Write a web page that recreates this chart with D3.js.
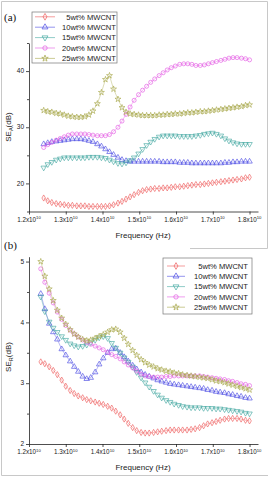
<!DOCTYPE html>
<html><head><meta charset="utf-8">
<script src="https://cdn.jsdelivr.net/npm/d3@7"></script>
<style>html,body{margin:0;padding:0;background:#fff;}svg{display:block;}</style>
</head><body>
<svg id="c" width="269" height="481"></svg>
<script>
// Frequencies (GHz)
const freqA = [12.40,12.51,12.62,12.74,12.85,12.96,13.07,13.18,13.30,13.41,13.52,13.63,13.74,13.86,13.97,14.08,14.19,14.30,14.42,14.53,14.64,14.75,14.86,14.98,15.09,15.20,15.31,15.42,15.54,15.65,15.76,15.87,15.98,16.10,16.21,16.32,16.43,16.54,16.66,16.77,16.88,16.99,17.10,17.22,17.33,17.44,17.55,17.66,17.78,17.89,18.00];
const freqB = [12.32,12.43,12.55,12.66,12.77,12.89,13.00,13.12,13.23,13.34,13.46,13.57,13.68,13.80,13.91,14.02,14.14,14.25,14.36,14.48,14.59,14.70,14.82,14.93,15.05,15.16,15.27,15.39,15.50,15.61,15.73,15.84,15.95,16.07,16.18,16.30,16.41,16.52,16.64,16.75,16.86,16.98,17.09,17.20,17.32,17.43,17.54,17.66,17.77,17.89,18.00];

const seriesNames = ["5wt% MWCNT","10wt% MWCNT","15wt% MWCNT","20wt% MWCNT","25wt% MWCNT"];

// Panel (a): SE_A (dB)
const seA5  = [17.4,16.9,16.6,16.4,16.3,16.2,16.1,16.1,16.0,16.0,16.0,15.9,15.9,15.9,15.9,15.9,16.0,16.2,16.5,16.8,17.2,17.6,18.0,18.4,18.7,18.9,19.0,19.1,19.1,19.2,19.2,19.3,19.4,19.4,19.5,19.6,19.7,19.8,19.8,19.9,20.0,20.1,20.2,20.3,20.4,20.5,20.6,20.7,20.8,21.0,21.1];
const seA10 = [27.0,27.2,27.4,27.5,27.6,27.7,27.8,27.9,27.9,27.9,27.8,27.6,27.4,27.0,26.6,26.1,25.6,25.1,24.6,24.2,24.0,23.9,23.9,23.9,23.9,23.9,23.9,23.9,23.9,23.8,23.8,23.8,23.8,23.7,23.7,23.7,23.6,23.6,23.6,23.6,23.6,23.6,23.6,23.6,23.7,23.7,23.8,23.8,23.9,23.9,23.9];
const seA15 = [22.8,23.4,23.8,24.2,24.4,24.6,24.6,24.6,24.6,24.6,24.6,24.7,24.7,24.7,24.6,24.5,24.2,23.9,23.6,23.5,23.7,24.1,24.6,25.3,26.1,26.8,27.4,27.9,28.3,28.5,28.5,28.5,28.5,28.4,28.4,28.4,28.4,28.5,28.6,28.8,28.9,29.0,28.8,28.5,28.0,27.6,27.3,27.1,27.0,27.0,27.0];
const seA20 = [26.4,26.9,27.3,27.7,28.0,28.3,28.6,28.8,28.8,28.8,28.8,28.7,28.6,28.5,28.5,28.5,28.7,29.2,30.0,31.1,32.3,33.6,34.8,35.8,36.6,37.3,38.0,38.6,39.2,39.7,40.2,40.6,40.9,41.2,41.3,41.3,41.2,41.0,41.0,41.1,41.3,41.5,41.7,41.9,42.1,42.3,42.4,42.4,42.3,42.2,42.0];
const seA25 = [33.0,32.8,32.7,32.5,32.4,32.2,32.0,31.9,31.8,31.8,31.9,32.2,32.9,34.2,36.2,38.5,39.2,36.8,35.0,33.5,32.7,32.4,32.3,32.2,32.1,32.1,32.1,32.1,32.2,32.2,32.3,32.3,32.4,32.4,32.5,32.6,32.6,32.7,32.8,32.8,32.9,33.0,33.1,33.2,33.3,33.4,33.5,33.6,33.7,33.9,34.0];

// Panel (b): SE_R (dB)
const seR5  = [3.35,3.32,3.27,3.21,3.14,3.05,2.95,2.88,2.83,2.79,2.76,2.73,2.71,2.69,2.67,2.65,2.62,2.59,2.54,2.48,2.41,2.34,2.27,2.22,2.19,2.18,2.18,2.19,2.20,2.21,2.22,2.23,2.23,2.23,2.23,2.23,2.24,2.25,2.27,2.30,2.33,2.35,2.37,2.39,2.41,2.42,2.42,2.42,2.41,2.39,2.38];
const seR10 = [4.47,4.22,3.98,3.84,3.72,3.56,3.46,3.36,3.27,3.19,3.11,3.07,3.09,3.18,3.31,3.41,3.50,3.56,3.57,3.50,3.43,3.36,3.29,3.23,3.18,3.14,3.11,3.08,3.05,3.03,3.01,2.99,2.98,2.97,2.96,2.95,2.94,2.93,2.92,2.91,2.89,2.88,2.86,2.85,2.84,2.82,2.81,2.79,2.78,2.76,2.75];
const seR15 = [4.42,4.18,4.01,3.91,3.84,3.77,3.71,3.65,3.62,3.60,3.61,3.63,3.67,3.71,3.75,3.77,3.74,3.66,3.58,3.50,3.42,3.35,3.27,3.18,3.09,3.01,2.94,2.87,2.81,2.76,2.72,2.69,2.66,2.64,2.62,2.61,2.60,2.60,2.60,2.59,2.59,2.59,2.58,2.58,2.57,2.56,2.55,2.54,2.53,2.51,2.50];
const seR20 = [4.88,4.66,4.48,4.32,4.17,4.05,3.95,3.87,3.81,3.76,3.71,3.67,3.64,3.61,3.58,3.55,3.51,3.47,3.44,3.40,3.35,3.30,3.25,3.20,3.15,3.12,3.11,3.10,3.10,3.10,3.11,3.11,3.12,3.12,3.12,3.12,3.12,3.12,3.12,3.11,3.10,3.09,3.08,3.07,3.06,3.04,3.03,3.01,2.99,2.98,2.96];
const seR25 = [5.00,4.76,4.55,4.36,4.20,4.07,3.97,3.88,3.81,3.76,3.72,3.70,3.71,3.74,3.77,3.80,3.84,3.88,3.89,3.84,3.74,3.64,3.54,3.46,3.39,3.34,3.30,3.27,3.24,3.22,3.20,3.19,3.17,3.16,3.14,3.13,3.12,3.11,3.10,3.09,3.08,3.06,3.04,3.03,3.01,2.99,2.97,2.95,2.93,2.91,2.89];

const xTicks = [12,13,14,15,16,17,18];
const yTicksA = [20,30,40];
const yMinorA = [15,25,35,45];
const yTicksB = [2,3,4,5];
const yMinorB = [2.5,3.5,4.5];

const colors = ["#ee5b5b","#4b4be3","#45a9a2","#e35ae3","#a8a84c"];
const symbols = [d3.symbolDiamond, d3.symbolTriangle, d3.symbolTriangle, d3.symbolCircle, d3.symbolStar];
const symSizes = [11, 13, 13, 13, 11];
const symRot = [0, 0, 180, 0, 0];

const svg = d3.select("#c");
const font = "Arial, 'Liberation Sans', sans-serif";

// faint frames
const frame = svg.append("g").attr("stroke","#c8c8c8").attr("stroke-width",1).attr("fill","none");
frame.append("path").attr("d","M1.5,475.5 V1.5 H267.5 V248.5 H190");
frame.append("path").attr("d","M1.5,475.5 H268");

function panel(cfg){
  const x = d3.scaleLinear().domain([12, 18.23]).range([29, 258]);
  const y = d3.scaleLinear().domain(cfg.yDomain).range(cfg.yRange);
  const g = svg.append("g");

  g.append("g").attr("transform",`translate(0,${cfg.yRange[0]})`)
    .call(d3.axisBottom(x).tickValues(xTicks).tickSize(3).tickSizeOuter(0).tickFormat(""));
  g.append("g").attr("transform","translate(29,0)")
    .call(d3.axisLeft(y).tickValues(cfg.yTicks).tickSize(3).tickSizeOuter(0).tickFormat(""));
  g.append("g").attr("transform","translate(29,0)")
    .call(d3.axisLeft(y).tickValues(cfg.yMinor).tickSize(2).tickSizeOuter(0).tickFormat(""))
    .select(".domain").remove();
  g.selectAll(".domain, .tick line").attr("stroke","#222").attr("stroke-width",0.8);

  xTicks.forEach(t=>{
    const tx = g.append("text").attr("x", x(t)).attr("y", cfg.yRange[0]+10)
      .attr("text-anchor","middle").attr("font-family",font).attr("font-size","6.3px").attr("fill","#222");
    tx.append("tspan").text((t/10).toFixed(1)+"x10");
    tx.append("tspan").attr("dy","-2.5").attr("font-size","4.2px").text("10");
  });
  cfg.yTicks.forEach(t=>{
    g.append("text").attr("x",24).attr("y",y(t)+2.2).attr("text-anchor","end")
      .attr("font-family",font).attr("font-size","6.5px").attr("fill","#222").text(t);
  });

  g.append("text").attr("x",143).attr("y",cfg.xTitleY).attr("text-anchor","middle")
    .attr("font-family",font).attr("font-size","8px").attr("fill","#222").text("Frequency (Hz)");
  const yt = g.append("text").attr("transform",`translate(10.5,${cfg.yTitleY}) rotate(-90)`)
    .attr("text-anchor","middle").attr("font-family",font).attr("font-size","8px").attr("fill","#222");
  yt.append("tspan").text("SE");
  yt.append("tspan").attr("font-size","5.5px").attr("dy","2").text(cfg.sub);
  yt.append("tspan").attr("dy","-2").text("(dB)");

  g.append("text").attr("x",cfg.labelX).attr("y",cfg.labelY).attr("font-family","'Liberation Serif', 'Times New Roman', serif")
    .attr("font-size","11px").attr("fill","#111").text(cfg.label);

  const line = d3.line().x((d,i)=>x(cfg.freq[i])).y(d=>y(d));
  cfg.data.forEach((vals,k)=>{
    g.append("path").datum(vals).attr("d",line).attr("fill","none")
      .attr("stroke",colors[k]).attr("stroke-width",0.5).attr("opacity",0.8);
    const sym = d3.symbol().type(symbols[k]).size(symSizes[k]);
    g.append("g").selectAll("path").data(vals).join("path")
      .attr("d",sym).attr("transform",(d,i)=>`translate(${x(cfg.freq[i])},${y(d)}) rotate(${symRot[k]})`)
      .attr("fill","none").attr("stroke",colors[k]).attr("stroke-width",0.65);
  });

  const L = cfg.legend;
  const lg = g.append("g");
  lg.append("rect").attr("x",L.x).attr("y",L.y).attr("width",L.w).attr("height",L.h)
    .attr("fill","#fff").attr("stroke","#777").attr("stroke-width",0.7);
  seriesNames.forEach((n,k)=>{
    const yy = L.y + L.first + k*L.step;
    lg.append("line").attr("x1",L.x+L.l1).attr("x2",L.x+L.l2).attr("y1",yy).attr("y2",yy)
      .attr("stroke",colors[k]).attr("stroke-width",0.6);
    lg.append("path").attr("d",d3.symbol().type(symbols[k]).size(symSizes[k]+2)())
      .attr("transform",`translate(${L.x+(L.l1+L.l2)/2},${yy}) rotate(${symRot[k]})`)
      .attr("fill","none").attr("stroke",colors[k]).attr("stroke-width",0.7);
    lg.append("text").attr("x",L.x+L.tx).attr("y",yy+2.7).attr("text-anchor","end")
      .attr("font-family",font).attr("font-size","7.6px").attr("fill","#222").text(n);
  });
}

panel({
  freq: freqA, data:[seA5,seA10,seA15,seA20,seA25],
  yDomain:[15,45], yRange:[211.5,43], yTicks:yTicksA, yMinor:yMinorA,
  xTitleY: 238, yTitleY: 127, sub:"A", label:"(a)", labelX:4, labelY:21,
  legend:{x:32,y:12,w:85,h:51,first:4.8,step:10.4,l1:3,l2:23,tx:84}
});
panel({
  freq: freqB, data:[seR5,seR10,seR15,seR20,seR25],
  yDomain:[2,5.08], yRange:[444,256.7], yTicks:yTicksB, yMinor:yMinorB,
  xTitleY: 470, yTitleY: 357, sub:"R", label:"(b)", labelX:4, labelY:249,
  legend:{x:163,y:258,w:89,h:56,first:8,step:10.3,l1:4,l2:22,tx:85}
});
</script>
</body></html>
